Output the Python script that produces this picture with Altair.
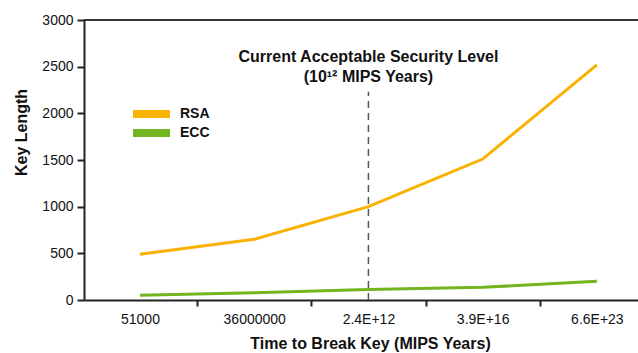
import json
import altair as alt
import pandas as pd

categories = ["51000", "36000000", "2.4E+12", "3.9E+16", "6.6E+23"]
positions = [0, 1, 2, 3, 4]
rsa = [490, 650, 1000, 1510, 2520]
ecc = [52, 78, 112, 136, 200]
y_ticks = [0, 500, 1000, 1500, 2000, 2500, 3000]
series_names = ["RSA", "ECC"]
series_colors = ["#F9B200", "#72B51F"]

rows = []
for name, vals in zip(series_names, [rsa, ecc]):
    for p, v in zip(positions, vals):
        rows.append({"series": name, "pos": p, "value": v})
df = pd.DataFrame(rows)

FONT = "Liberation Sans"
label_list = json.dumps(categories)
x_values = [-0.5, 0, 0.5, 1, 1.5, 2, 2.5, 3, 3.5, 4]

x_scale = alt.Scale(domain=[-0.49, 4.36], nice=False, zero=False)
y_scale = alt.Scale(domain=[0, 3000], nice=False)

x_axis = alt.Axis(
    values=x_values,
    labelExpr=f"datum.value % 1 === 0 ? {label_list}[datum.value] : ''",
    tickOpacity=alt.condition("datum.value % 1 !== 0", alt.value(1), alt.value(0)),
    grid=False,
    labelOverlap=False,
    labelFlush=False,
    labelFont=FONT,
    labelFontSize=14,
    labelColor="#111",
    labelPadding=6,
    tickSize=6,
    tickWidth=2,
    tickColor="#222",
    domainColor="#222",
    domainWidth=2,
    title="Time to Break Key (MIPS Years)",
    titleFont=FONT,
    titleFontSize=16,
    titleFontWeight="bold",
    titleColor="#111",
    titleX=286,
    titleY=43,
    titleBaseline="middle",
    titleAnchor="middle",
)

y_axis = alt.Axis(
    values=y_ticks,
    format="d",
    grid=False,
    labelFont=FONT,
    labelFontSize=14,
    labelColor="#111",
    labelPadding=4,
    tickSize=7,
    tickWidth=2,
    tickColor="#222",
    domainColor="#222",
    domainWidth=2,
    title="Key Length",
    titleFont=FONT,
    titleFontSize=16,
    titleFontWeight="bold",
    titleColor="#111",
    titleAngle=-90,
    titleX=-63,
    titleY=112,
    titleAlign="center",
    titleBaseline="middle",
)

lines = alt.Chart(df).mark_line(strokeWidth=3, interpolate="linear").encode(
    x=alt.X("pos:Q", scale=x_scale, axis=x_axis),
    y=alt.Y("value:Q", scale=y_scale, axis=y_axis),
    color=alt.Color(
        "series:N",
        scale=alt.Scale(domain=series_names, range=series_colors),
        legend=alt.Legend(
            title=None,
            orient="none",
            legendX=49,
            legendY=86,
            padding=0,
            symbolType="M-2,0H7.25",
            symbolSize=64,
            symbolStrokeWidth=8,
            labelFont=FONT,
            labelFontSize=14,
            labelFontWeight="bold",
            labelColor="#111",
            clipHeight=16,
            rowPadding=3,
            labelOffset=31,
        ),
    ),
)

top_line = alt.Chart(pd.DataFrame({"v": [3000]})).mark_rule(
    color="#333", strokeWidth=2
).encode(y=alt.Y("v:Q", scale=y_scale))

threshold = alt.Chart(pd.DataFrame({"x": [2], "y0": [0], "y1": [2230]})).mark_rule(
    color="#555", strokeWidth=1.5, strokeDash=[7, 5]
).encode(
    x=alt.X("x:Q", scale=x_scale),
    y=alt.Y("y0:Q", scale=y_scale),
    y2="y1:Q",
)

note = alt.Chart(
    pd.DataFrame({"x": [2], "y": [2600],
                  "t": [["Current Acceptable Security Level", "(10¹² MIPS Years)"]]})
).mark_text(
    font=FONT, fontSize=16, fontWeight="bold", color="#111",
    lineHeight=20, baseline="middle", align="center",
).encode(
    x=alt.X("x:Q", scale=x_scale),
    y=alt.Y("y:Q", scale=y_scale),
    text="t",
)

chart = alt.layer(threshold, lines, top_line, note).properties(
    width=554,
    height=280,
    padding={"left": 84, "top": 20, "right": 0, "bottom": 53},
    autosize=alt.AutoSizeParams(type="none"),
).configure_view(stroke=None).configure(background="white")

chart.save("out.html", embed_options={"renderer": "svg", "actions": False})
